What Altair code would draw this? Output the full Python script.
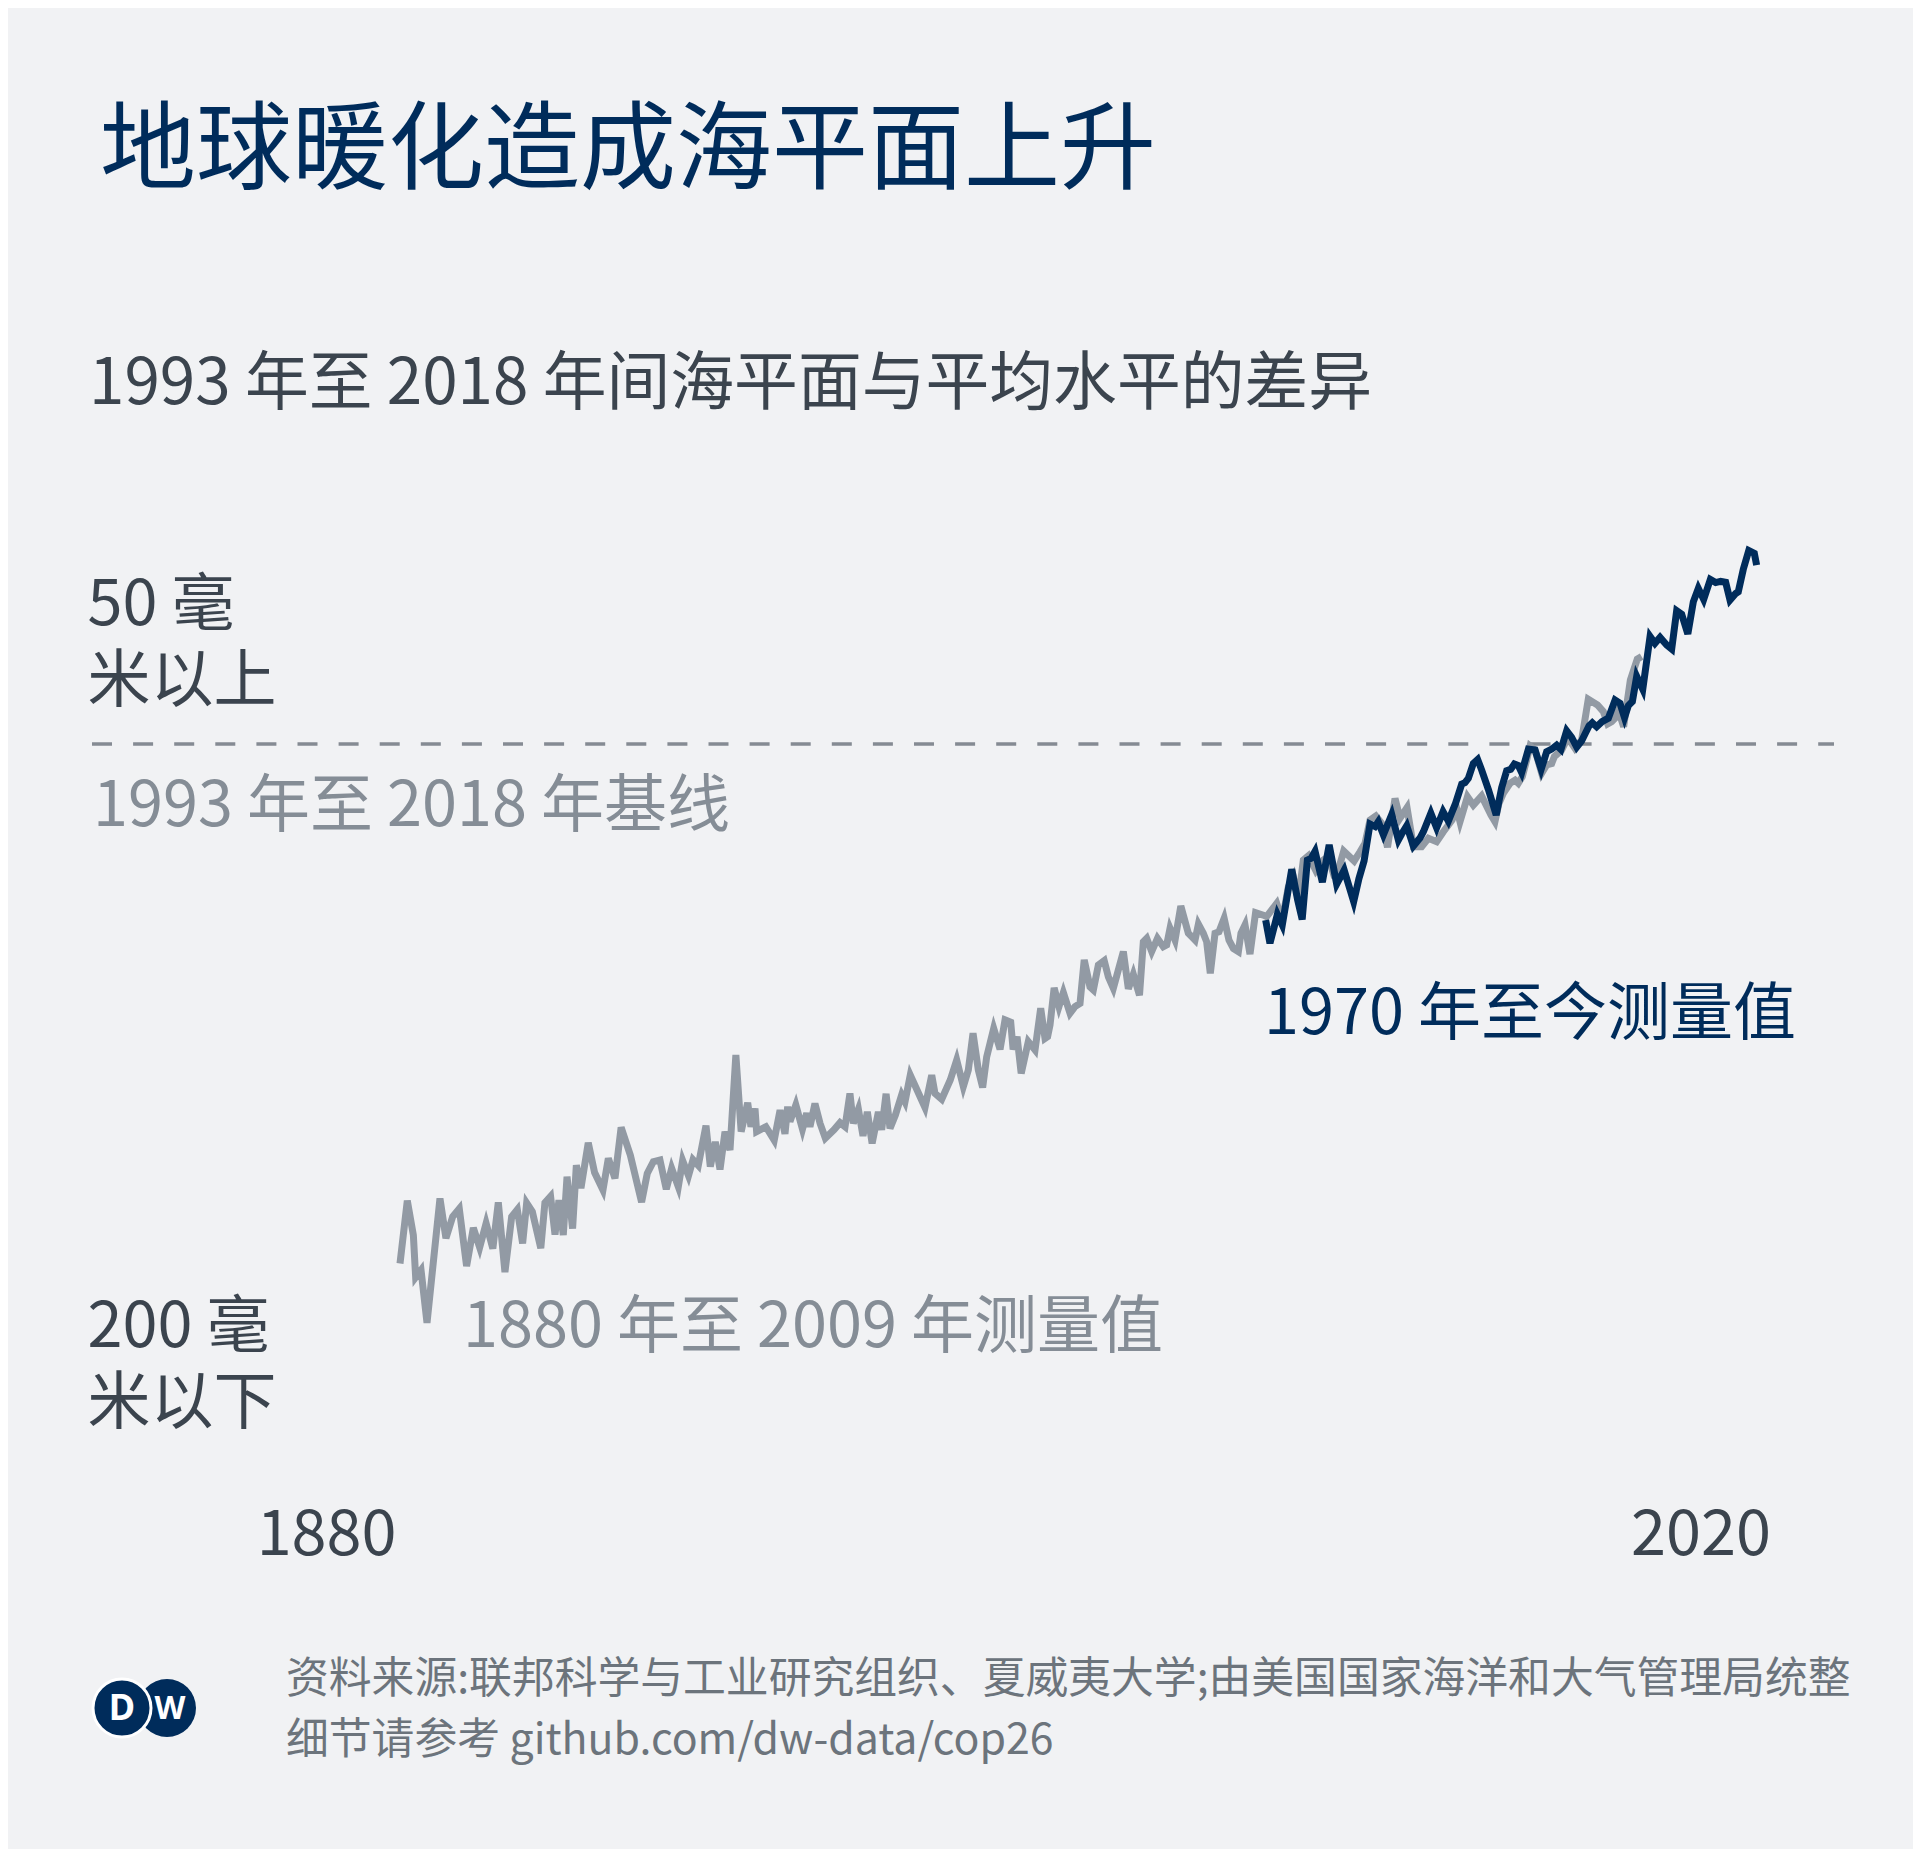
import altair as alt
import pandas as pd

# ---------------- data ----------------
gray_years = [1880.00, 1880.76, 1881.39, 1881.63, 1882.19, 1882.81, 1884.16, 1884.78, 1885.48, 1886.17,
              1886.93, 1887.63, 1888.29, 1888.96, 1889.66, 1890.23, 1890.92, 1891.62, 1892.21, 1892.76,
              1893.18, 1893.77, 1894.65, 1895.08, 1895.67, 1896.13, 1896.54, 1896.99, 1897.38, 1897.96,
              1898.35, 1898.83, 1899.59, 1900.25, 1901.12, 1901.68, 1902.37, 1903.01, 1903.97, 1905.14,
              1905.73, 1906.36, 1907.05, 1907.71, 1908.27, 1908.96, 1909.41, 1910.02, 1910.49, 1911.04,
              1911.84, 1912.29, 1912.81, 1913.30, 1913.82, 1914.34, 1914.95, 1915.50, 1916.18, 1916.52,
              1916.94, 1917.11, 1918.07, 1918.94, 1919.55, 1920.06, 1920.34, 1920.58, 1921.19, 1921.88,
              1922.32, 1922.66, 1923.18, 1923.71, 1924.26, 1925.18, 1925.79, 1926.31, 1926.82, 1927.17,
              1927.70, 1928.18, 1928.63, 1929.13, 1929.78, 1930.12, 1930.58, 1930.99, 1931.55, 1932.20,
              1932.55, 1933.10, 1934.04, 1934.63, 1935.33, 1935.67, 1936.37, 1937.26, 1937.93, 1938.62,
              1939.14, 1939.63, 1940.18, 1940.63, 1941.05, 1941.78, 1942.44, 1942.96, 1943.55, 1943.80,
              1944.21, 1944.64, 1945.38, 1946.08, 1946.67, 1947.12, 1947.39, 1947.64, 1948.07, 1948.57,
              1949.03, 1949.72, 1950.24, 1950.76, 1951.20, 1951.80, 1952.15, 1952.67, 1953.28, 1953.71,
              1954.23, 1955.27, 1955.79, 1956.31, 1956.95, 1957.35, 1957.70, 1958.22, 1958.82, 1959.43,
              1959.78, 1960.13, 1960.65, 1961.25, 1962.03, 1962.38, 1962.73, 1963.08, 1963.59, 1963.94,
              1964.32, 1964.81, 1965.22, 1965.76, 1966.26, 1966.72, 1967.24, 1967.51, 1967.93, 1968.45,
              1969.03, 1969.84, 1970.18, 1971.23, 1971.81, 1972.44, 1972.96, 1973.48, 1974.00, 1974.53,
              1975.30, 1976.08, 1976.60, 1977.12, 1977.64, 1978.20, 1979.29, 1979.90, 1980.42, 1980.94,
              1981.54, 1982.15, 1982.76, 1983.54, 1984.06, 1984.79, 1985.45, 1986.31, 1987.01, 1987.87,
              1988.57, 1989.48, 1989.96, 1990.30, 1991.08, 1991.69, 1992.55, 1993.53, 1993.94, 1994.36,
              1994.81, 1995.51, 1996.03, 1996.37, 1996.79, 1997.24, 1997.59, 1998.11, 1998.80, 1999.32,
              1999.84, 2000.12, 2000.88, 2001.52, 2002.27, 2002.96, 2003.65, 2004.61, 2005.22, 2005.67,
              2006.08, 2006.43, 2006.78, 2007.33, 2008.03, 2008.75, 2009.20]
gray_mm = [-181.2, -159.3, -171.3, -186.0, -183.5, -201.9, -158.5, -172.4, -164.9, -162.1,
           -182.1, -168.8, -175.6, -167.2, -176.0, -159.9, -184.2, -164.9, -162.4, -174.2,
           -160.1, -163.1, -175.9, -160.0, -157.8, -171.1, -159.1, -171.3, -150.9, -169.0,
           -146.9, -154.9, -139.1, -149.5, -155.6, -144.5, -151.5, -133.7, -143.4, -159.8,
           -149.8, -145.7, -145.1, -155.3, -148.0, -154.4, -145.3, -150.6, -145.0, -147.0,
           -133.1, -147.4, -138.8, -148.4, -135.2, -141.6, -108.5, -135.2, -125.1, -133.5,
           -127.1, -135.2, -133.5, -138.2, -127.7, -136.0, -126.5, -131.7, -125.9, -134.3,
           -128.8, -133.5, -125.4, -132.3, -137.5, -134.5, -132.1, -133.5, -121.9, -132.3,
           -127.4, -136.7, -128.3, -139.3, -128.3, -134.6, -122.0, -134.1, -129.4, -122.4,
           -124.8, -115.5, -122.4, -126.8, -115.5, -121.9, -123.9, -117.2, -110.2, -119.5,
           -113.7, -100.9, -113.7, -119.8, -109.1, -99.2, -106.5, -96.2, -97.0, -106.5,
           -102.1, -114.9, -103.8, -106.7, -92.2, -102.7, -102.1, -98.0, -85.1, -91.6,
           -86.7, -93.9, -91.6, -90.5, -75.3, -84.7, -85.8, -77.1, -75.6, -81.2,
           -85.2, -72.4, -85.4, -80.3, -87.6, -69.0, -67.8, -72.4, -67.8, -70.7,
           -70.1, -64.3, -68.4, -56.5, -66.0, -67.2, -68.4, -62.8, -66.0, -69.0,
           -80.0, -66.0, -65.5, -60.8, -68.4, -71.3, -72.4, -66.0, -63.1, -73.3,
           -58.8, -59.7, -60.2, -55.6, -61.4, -49.8, -46.3, -54.4, -40.5, -39.0,
           -44.2, -40.5, -39.3, -45.1, -43.9, -37.3, -40.8, -37.6, -34.6, -26.5,
           -25.1, -27.7, -36.0, -19.0, -25.9, -22.2, -35.8, -35.8, -32.9, -34.1,
           -30.6, -26.5, -22.5, -27.1, -18.4, -21.3, -18.1, -24.8, -27.1, -20.7,
           -17.2, -13.7, -12.6, -13.7, -11.4, -5.6, -0.7, -2.1, -10.2, -7.3,
           -6.8, -4.4, -2.1, 2.2, -1.5, 1.4, 15.6, 13.6, 11.3, 7.0,
           7.8, 9.0, 11.8, 6.0, 22.3, 29.6, 30.5]

blue_years = [1970.08, 1970.53, 1971.30, 1971.81, 1972.79, 1973.41, 1973.88, 1974.42, 1974.80, 1975.22,
              1975.98, 1976.69, 1977.47, 1978.25, 1979.24, 1979.79, 1980.32, 1980.94, 1981.46, 1981.80,
              1982.33, 1983.20, 1983.89, 1984.23, 1984.76, 1985.45, 1986.14, 1986.49, 1987.27, 1987.87,
              1988.54, 1989.09, 1989.84, 1990.48, 1990.82, 1991.17, 1991.69, 1992.14, 1992.56, 1993.25,
              1994.07, 1994.64, 1995.16, 1995.58, 1995.96, 1996.37, 1996.72, 1997.42, 1998.11, 1998.75,
              1999.32, 1999.84, 2000.36, 2000.81, 2001.40, 2001.92, 2002.45, 2002.96, 2003.31, 2003.73,
              2004.07, 2004.52, 2005.08, 2005.74, 2006.44, 2006.95, 2007.42, 2007.82, 2008.24, 2008.69,
              2009.32, 2010.08, 2010.59, 2011.12, 2011.81, 2012.33, 2012.85, 2013.37, 2014.01, 2014.58,
              2015.10, 2015.66, 2016.35, 2016.91, 2017.42, 2017.95, 2018.40, 2018.99, 2019.26, 2019.78,
              2020.35, 2020.93, 2021.17]
blue_mm = [-61.4, -69.5, -59.4, -63.1, -43.7, -54.4, -61.2, -40.5, -39.9, -37.4,
           -48.2, -35.2, -48.9, -44.0, -55.0, -46.9, -40.8, -27.9, -28.8, -27.1,
           -31.7, -24.6, -33.5, -31.4, -28.5, -35.6, -32.8, -30.6, -24.1, -29.2,
           -23.6, -26.9, -20.7, -14.0, -13.5, -12.0, -6.8, -5.4, -9.1, -15.8,
           -24.8, -15.2, -9.3, -8.8, -7.0, -7.5, -10.0, -1.8, -2.1, -8.8,
           -2.7, -1.8, -0.4, -1.9, 4.6, 2.3, -1.1, 1.1, 3.5, 6.3,
           7.4, 6.0, 7.8, 9.0, 15.3, 14.2, 9.2, 13.4, 14.8, 23.6,
           19.1, 37.5, 35.1, 37.2, 34.5, 33.1, 46.5, 45.3, 38.4, 49.6,
           54.3, 50.4, 57.4, 56.3, 56.7, 56.4, 50.2, 52.5, 53.1, 60.9,
           67.5, 66.5, 62.4]

baseline_mm = [0]
x_ticks = [1880, 2020]
y_ticks = [50, -200]

title_text = "地球暖化造成海平面上升"
subtitle_text = "1993 年至 2018 年间海平面与平均水平的差异"
baseline_text = "1993 年至 2018 年基线"
gray_label = "1880 年至 2009 年测量值"
blue_label = "1970 年至今测量值"
source_text = "资料来源:联邦科学与工业研究组织、夏威夷大学;由美国国家海洋和大气管理局统整\n细节请参考 github.com/dw-data/cop26"

# ---------------- styling ----------------
FONT = "Noto Sans CJK SC"
NAVY = "#002c5b"
GRAY_LINE = "#929aa4"
DARK = "#3b444e"
MID = "#858d96"
SRC = "#6c747c"
BG = "#f1f2f4"

xscale = alt.Scale(domain=[1880, 2021], range=[392, 1747], nice=False, zero=False)
yscale = alt.Scale(domain=[-200, 50], range=[1309.4, 592.65], nice=False, zero=False)

xaxis = alt.Axis(values=x_ticks, format="d", title=None, grid=False, domain=False,
                 ticks=False, tickSize=0, labelPadding=0, labelFont=FONT, labelFontSize=63,
                 labelColor=DARK, labelBaseline="alphabetic", labelAlign="right",
                 labelFlush=False, labelOverlap=False, labelBound=False, labelLimit=0,
                 labelOffset={"condition": {"test": "datum.value == 1880", "value": -4}, "value": 25})

yaxis = alt.Axis(values=y_ticks, title=None, grid=False, domain=False, ticks=False, tickSize=0,
                 offset=-79, labelPadding=0, labelAlign="left", labelBaseline="alphabetic",
                 labelFont=FONT, labelFontSize=63, labelColor=DARK, labelLineHeight=76,
                 labelFlush=False, labelOverlap=False, labelBound=False, labelLimit=0,
                 labelExpr="datum.value == 50 ? ['50 毫', '米以上'] : ['200 毫', '米以下']",
                 labelOffset={"condition": {"test": "datum.value == 50", "value": 24}, "value": 29})

gray_df = pd.DataFrame({"year": gray_years, "mm": gray_mm})
blue_df = pd.DataFrame({"year": blue_years, "mm": blue_mm})
base_df = pd.DataFrame({"mm": baseline_mm})


def X():
    return alt.X("year:Q", scale=xscale, axis=xaxis)


def Y():
    return alt.Y("mm:Q", scale=yscale, axis=yaxis)


baseline_rule = alt.Chart(base_df).mark_rule(
    color="#858b93", strokeWidth=3.5, strokeDash=[20, 21.1]
).encode(y=Y(), x=alt.value(84), x2=alt.value(1826))

gray_line = alt.Chart(gray_df).mark_line(color=GRAY_LINE, strokeWidth=7).encode(x=X(), y=Y())
blue_line = alt.Chart(blue_df).mark_line(color=NAVY, strokeWidth=7).encode(x=X(), y=Y())


def text_layer(txt, x, y, size, color, line_height=None, weight=None):
    kw = dict(align="left", baseline="alphabetic", font=FONT, fontSize=size, color=color)
    if line_height is not None:
        kw.update(lineBreak="\n", lineHeight=line_height)
    if weight is not None:
        kw.update(fontWeight=weight)
    return alt.Chart(pd.DataFrame({"t": [txt]})).mark_text(**kw).encode(
        text="t:N", x=alt.value(x), y=alt.value(y))


title = text_layer(title_text, 92, 173, 96, NAVY)
subtitle = text_layer(subtitle_text, 81, 396, 63.8, DARK)
base_lbl = text_layer(baseline_text, 85, 818, 63, MID)
gray_lbl = text_layer(gray_label, 455, 1339, 63, MID)
blue_lbl = text_layer(blue_label, 1256, 1026, 63, NAVY)
source = text_layer(source_text, 278, 1685, 42.8, SRC, line_height=61)

logo_df = pd.DataFrame({"t": ["W"]})
logo_w = alt.Chart(logo_df).mark_circle(size=3364, color=NAVY, opacity=1).encode(
    x=alt.value(159), y=alt.value(1700))
logo_d = alt.Chart(logo_df).mark_circle(size=3364, color=NAVY, opacity=1,
                                        stroke="#ffffff", strokeWidth=3).encode(
    x=alt.value(114), y=alt.value(1700))
logo_dt = alt.Chart(pd.DataFrame({"t": ["D"]})).mark_text(
    font="Noto Sans", fontWeight="bold", fontSize=36, color="#ffffff", align="center",
    baseline="middle").encode(text="t:N", x=alt.value(114), y=alt.value(1701))
logo_wt = alt.Chart(pd.DataFrame({"t": ["W"]})).mark_text(
    font="Noto Sans", fontWeight="bold", fontSize=32, color="#ffffff", align="center",
    baseline="middle").encode(text="t:N", x=alt.value(162), y=alt.value(1701))

chart = alt.layer(
    baseline_rule, gray_line, blue_line,
    title, subtitle, base_lbl, gray_lbl, blue_lbl, source,
    logo_w, logo_d, logo_dt, logo_wt
).properties(
    width=1905, height=1546,
    padding={"left": 0, "top": 0, "right": 0, "bottom": 295},
    autosize=alt.AutoSizeParams(type="none"),
    background=BG,
).configure_view(stroke=None)

chart.save("out.html", embed_options={"renderer": "svg", "actions": False})
